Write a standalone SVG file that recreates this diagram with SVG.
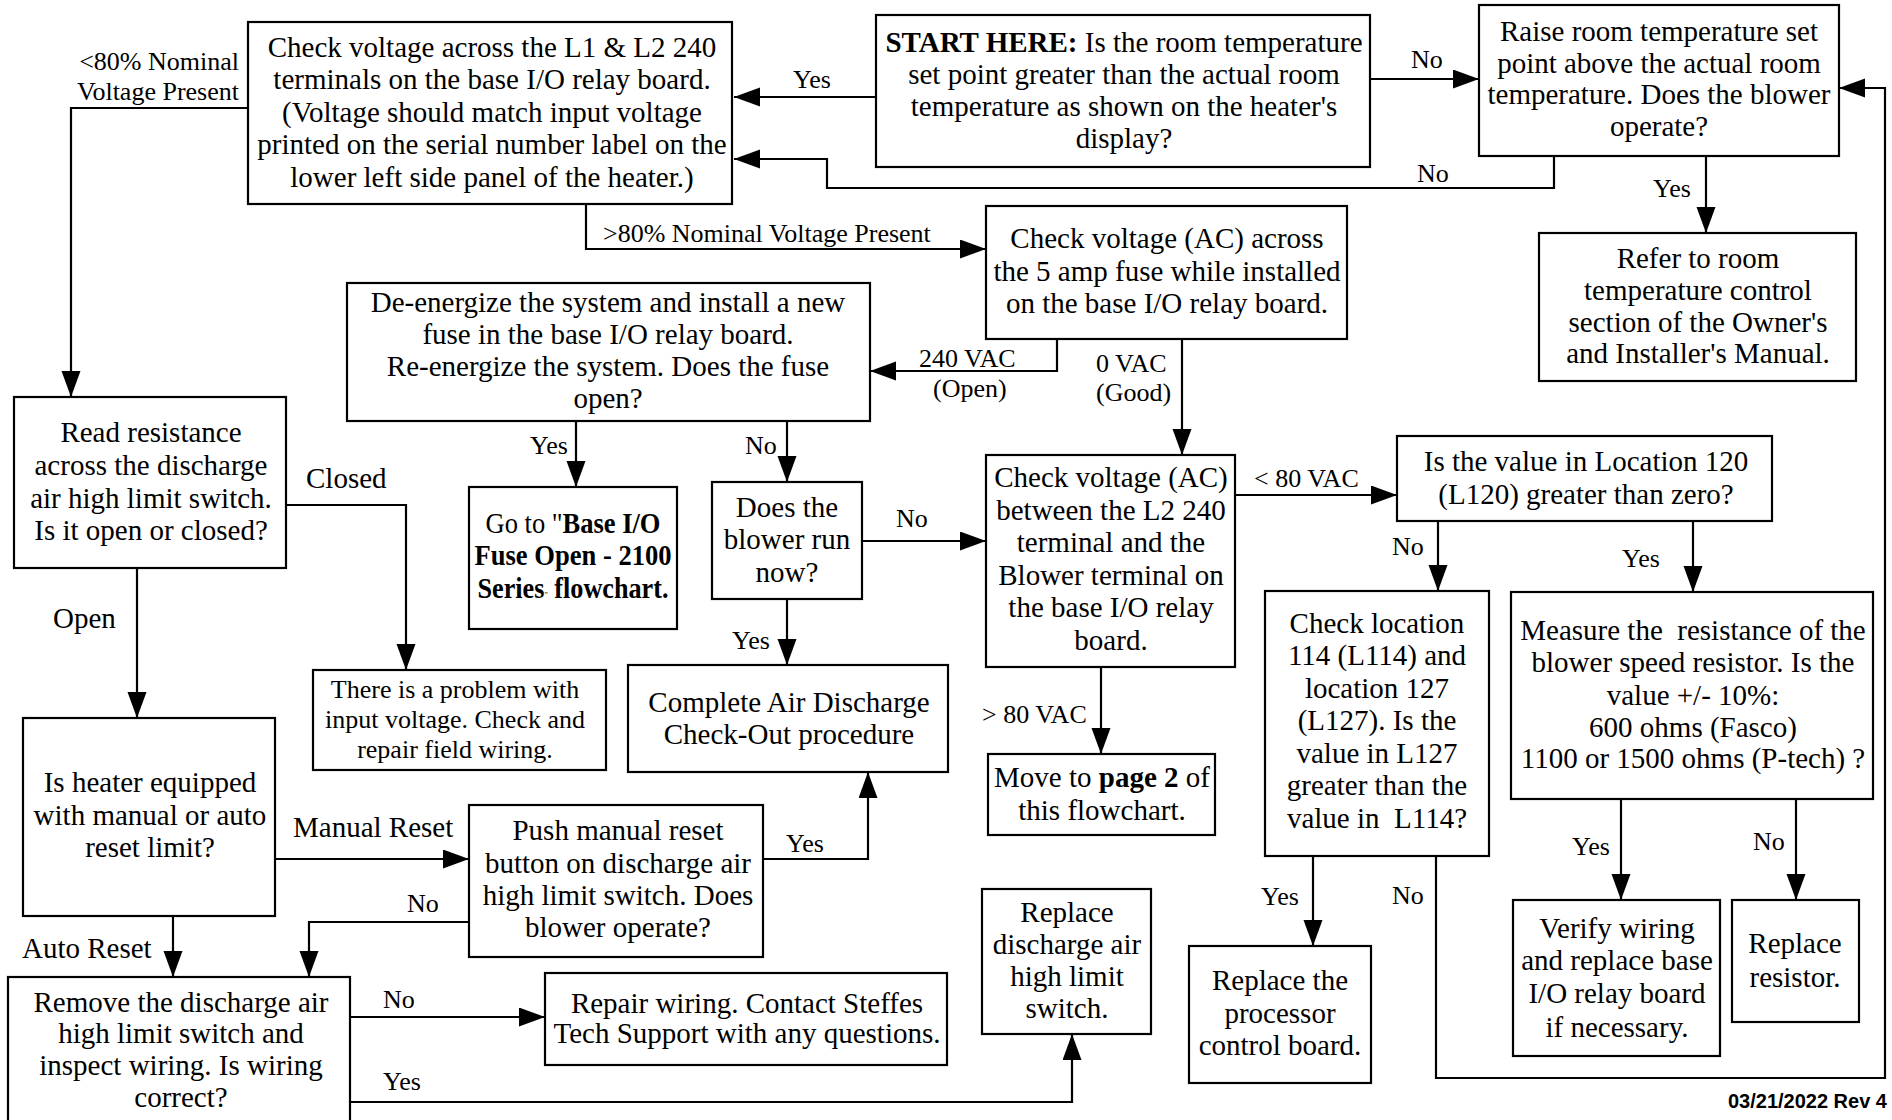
<svg xmlns="http://www.w3.org/2000/svg" width="1892" height="1120" viewBox="0 0 1892 1120">
<style>
text{font-family:"Liberation Serif","Times New Roman",serif;fill:#000}
.t{font-size:29px;text-anchor:middle}
.s{font-size:26px;text-anchor:middle}
.l{font-size:26px}
.lb{font-size:29px}
.b{font-weight:bold}
.box{fill:#fff;stroke:#000;stroke-width:2.2}
.c{fill:none;stroke:#000;stroke-width:2.2}
.rev{font-family:"Liberation Sans",Arial,sans-serif;font-weight:bold;font-size:20px;text-anchor:end}
</style>
<defs>
<marker id="ah" markerUnits="userSpaceOnUse" markerWidth="28" markerHeight="20" refX="26" refY="9.5" orient="auto">
<path d="M0,0 L26,9.5 L0,19 z" fill="#000"/>
</marker>
</defs>
<rect width="1892" height="1120" fill="#fff"/>

<g id="connectors" class="c" marker-end="url(#ah)">
<path d="M876,97 H734"/>
<path d="M1370,79 H1479"/>
<path d="M1554,156 V188 H827 V159 H734"/>
<path d="M1706,156 V233"/>
<path d="M586,204 V249 H986"/>
<path d="M248,108 H71 V397"/>
<path d="M1057,339 V371 H870"/>
<path d="M1182,339 V455"/>
<path d="M576,421 V487"/>
<path d="M787,421 V482"/>
<path d="M862,541 H986"/>
<path d="M787,599 V665"/>
<path d="M1235,495 H1397"/>
<path d="M1101,667 V754"/>
<path d="M1438,521 V591"/>
<path d="M1693,521 V592"/>
<path d="M1621,799 V900"/>
<path d="M1796,799 V900"/>
<path d="M1313,856 V946"/>
<path d="M1436,856 V1078 H1885 V88 H1839"/>
<path d="M286,505 H406 V670"/>
<path d="M137,568 V718"/>
<path d="M275,859 H469"/>
<path d="M173,916 V977"/>
<path d="M763,859 H868 V772"/>
<path d="M469,922 H309 V977"/>
<path d="M350,1017 H545"/>
<path d="M350,1102 H1072 V1034"/>
</g>

<g id="connector-labels">
<text class="l" x="239" y="70" text-anchor="end">&lt;80% Nominal</text>
<text class="l" x="239" y="100" text-anchor="end">Voltage Present</text>
<text class="l" x="793" y="88">Yes</text>
<text class="l" x="1411" y="68">No</text>
<text class="l" x="1417" y="182">No</text>
<text class="l" x="1653" y="197">Yes</text>
<text class="l" x="603" y="242">&gt;80% Nominal Voltage Present</text>
<text class="l" x="919" y="367">240 VAC</text>
<text class="l" x="933" y="397">(Open)</text>
<text class="l" x="1096" y="372">0 VAC</text>
<text class="l" x="1096" y="401">(Good)</text>
<text class="lb" x="306" y="488">Closed</text>
<text class="lb" x="53" y="628">Open</text>
<text class="l" x="530" y="454">Yes</text>
<text class="l" x="745" y="454">No</text>
<text class="l" x="896" y="527">No</text>
<text class="l" x="732" y="649">Yes</text>
<text class="l" x="1254" y="487">&lt; 80 VAC</text>
<text class="l" x="982" y="723">&gt; 80 VAC</text>
<text class="l" x="1392" y="555">No</text>
<text class="l" x="1622" y="567">Yes</text>
<text class="l" x="1572" y="855">Yes</text>
<text class="l" x="1753" y="850">No</text>
<text class="l" x="1261" y="905">Yes</text>
<text class="l" x="1392" y="904">No</text>
<text class="lb" x="293" y="837">Manual Reset</text>
<text class="l" x="407" y="912">No</text>
<text class="l" x="786" y="852">Yes</text>
<text class="lb" x="22" y="958">Auto Reset</text>
<text class="l" x="383" y="1008">No</text>
<text class="l" x="383" y="1090">Yes</text>
</g>

<g id="node-start">
<rect class="box" x="876" y="15" width="494" height="152"/>
<text class="t" x="1124" y="52"><tspan class="b">START HERE:</tspan> Is the room temperature</text>
<text class="t" x="1124" y="84">set point greater than the actual room</text>
<text class="t" x="1124" y="116">temperature as shown on the heater's</text>
<text class="t" x="1124" y="148">display?</text>
</g>

<g id="node-raise">
<rect class="box" x="1479" y="5" width="360" height="151"/>
<text class="t" x="1659" y="41">Raise room temperature set</text>
<text class="t" x="1659" y="73">point above the actual room</text>
<text class="t" x="1659" y="104">temperature. Does the blower</text>
<text class="t" x="1659" y="136">operate?</text>
</g>

<g id="node-refer">
<rect class="box" x="1539" y="233" width="317" height="148"/>
<text class="t" x="1698" y="268">Refer to room</text>
<text class="t" x="1698" y="300">temperature control</text>
<text class="t" x="1698" y="332">section of the Owner's</text>
<text class="t" x="1698" y="363">and Installer's Manual.</text>
</g>

<g id="node-check-l1l2">
<rect class="box" x="248" y="22" width="484" height="182"/>
<text class="t" x="492" y="57">Check voltage across the L1 &amp; L2 240</text>
<text class="t" x="492" y="89">terminals on the base I/O relay board.</text>
<text class="t" x="492" y="122">(Voltage should match input voltage</text>
<text class="t" x="492" y="154">printed on the serial number label on the</text>
<text class="t" x="492" y="187">lower left side panel of the heater.)</text>
</g>

<g id="node-check-fuse">
<rect class="box" x="986" y="206" width="361" height="133"/>
<text class="t" x="1167" y="248">Check voltage (AC) across</text>
<text class="t" x="1167" y="281">the 5 amp fuse while installed</text>
<text class="t" x="1167" y="313">on the base I/O relay board.</text>
</g>

<g id="node-deenergize">
<rect class="box" x="347" y="283" width="523" height="138"/>
<text class="t" x="608" y="312">De-energize the system and install a new</text>
<text class="t" x="608" y="344">fuse in the base I/O relay board.</text>
<text class="t" x="608" y="376">Re-energize the system. Does the fuse</text>
<text class="t" x="608" y="408">open?</text>
</g>

<g id="node-read-resistance">
<rect class="box" x="14" y="397" width="272" height="171"/>
<text class="t" x="151" y="442">Read resistance</text>
<text class="t" x="151" y="475">across the discharge</text>
<text class="t" x="151" y="508">air high limit switch.</text>
<text class="t" x="151" y="540">Is it open or closed?</text>
</g>

<g id="node-goto">
<rect class="box" x="469" y="487" width="208" height="142"/>
<text class="t" x="573" y="533" textLength="175" lengthAdjust="spacingAndGlyphs">Go to "<tspan class="b">Base I/O</tspan></text>
<text class="t b" x="573" y="565" textLength="197" lengthAdjust="spacingAndGlyphs">Fuse Open - 2100</text>
<text class="t b" x="573" y="598" textLength="191" lengthAdjust="spacingAndGlyphs">Series<tspan font-size="9" font-weight="normal">"</tspan> flowchart.</text>
</g>

<g id="node-does-blower">
<rect class="box" x="712" y="482" width="150" height="117"/>
<text class="t" x="787" y="517">Does the</text>
<text class="t" x="787" y="549">blower run</text>
<text class="t" x="787" y="582">now?</text>
</g>

<g id="node-check-l2-blower">
<rect class="box" x="986" y="455" width="249" height="212"/>
<text class="t" x="1111" y="487">Check voltage (AC)</text>
<text class="t" x="1111" y="520">between the L2 240</text>
<text class="t" x="1111" y="552">terminal and the</text>
<text class="t" x="1111" y="585">Blower terminal on</text>
<text class="t" x="1111" y="617">the base I/O relay</text>
<text class="t" x="1111" y="650">board.</text>
</g>

<g id="node-l120">
<rect class="box" x="1397" y="436" width="375" height="85"/>
<text class="t" x="1586" y="471">Is the value in Location 120</text>
<text class="t" x="1586" y="504">(L120) greater than zero?</text>
</g>

<g id="node-problem">
<rect class="box" x="313" y="670" width="293" height="100"/>
<text class="s" x="455" y="698">There is a problem with</text>
<text class="s" x="455" y="728">input voltage. Check and</text>
<text class="s" x="455" y="758">repair field wiring.</text>
</g>

<g id="node-complete">
<rect class="box" x="628" y="665" width="320" height="107"/>
<text class="t" x="789" y="712">Complete Air Discharge</text>
<text class="t" x="789" y="744">Check-Out procedure</text>
</g>

<g id="node-move">
<rect class="box" x="988" y="754" width="227" height="81"/>
<text class="t" x="1102" y="787">Move to <tspan class="b">page 2</tspan> of</text>
<text class="t" x="1102" y="820">this flowchart.</text>
</g>

<g id="node-l114">
<rect class="box" x="1265" y="591" width="224" height="265"/>
<text class="t" x="1377" y="633">Check location</text>
<text class="t" x="1377" y="665">114 (L114) and</text>
<text class="t" x="1377" y="698">location 127</text>
<text class="t" x="1377" y="730">(L127). Is the</text>
<text class="t" x="1377" y="763">value in L127</text>
<text class="t" x="1377" y="795">greater than the</text>
<text class="t" x="1377" y="828" xml:space="preserve">value in  L114?</text>
</g>

<g id="node-measure">
<rect class="box" x="1511" y="592" width="362" height="207"/>
<text class="t" x="1693" y="640" xml:space="preserve">Measure the  resistance of the</text>
<text class="t" x="1693" y="672">blower speed resistor. Is the</text>
<text class="t" x="1693" y="705">value +/- 10%:</text>
<text class="t" x="1693" y="737">600 ohms (Fasco)</text>
<text class="t" x="1693" y="768">1100 or 1500 ohms (P-tech) ?</text>
</g>

<g id="node-verify">
<rect class="box" x="1513" y="900" width="207" height="156"/>
<text class="t" x="1617" y="938">Verify wiring</text>
<text class="t" x="1617" y="970">and replace base</text>
<text class="t" x="1617" y="1003">I/O relay board</text>
<text class="t" x="1617" y="1037">if necessary.</text>
</g>

<g id="node-replace-resistor">
<rect class="box" x="1732" y="900" width="127" height="122"/>
<text class="t" x="1795" y="953">Replace</text>
<text class="t" x="1795" y="987">resistor.</text>
</g>

<g id="node-heater-reset">
<rect class="box" x="23" y="718" width="252" height="198"/>
<text class="t" x="150" y="792">Is heater equipped</text>
<text class="t" x="150" y="825">with manual or auto</text>
<text class="t" x="150" y="857">reset limit?</text>
</g>

<g id="node-push-reset">
<rect class="box" x="469" y="805" width="294" height="152"/>
<text class="t" x="618" y="840">Push manual reset</text>
<text class="t" x="618" y="873">button on discharge air</text>
<text class="t" x="618" y="905">high limit switch. Does</text>
<text class="t" x="618" y="937">blower operate?</text>
</g>

<g id="node-remove">
<rect class="box" x="8" y="977" width="342" height="150"/>
<text class="t" x="181" y="1012">Remove the discharge air</text>
<text class="t" x="181" y="1043">high limit switch and</text>
<text class="t" x="181" y="1075">inspect wiring. Is wiring</text>
<text class="t" x="181" y="1107">correct?</text>
</g>

<g id="node-repair">
<rect class="box" x="545" y="973" width="402" height="92"/>
<text class="t" x="747" y="1013">Repair wiring. Contact Steffes</text>
<text class="t" x="747" y="1043">Tech Support with any questions.</text>
</g>

<g id="node-replace-switch">
<rect class="box" x="982" y="889" width="169" height="145"/>
<text class="t" x="1067" y="922">Replace</text>
<text class="t" x="1067" y="954">discharge air</text>
<text class="t" x="1067" y="986">high limit</text>
<text class="t" x="1067" y="1018">switch.</text>
</g>

<g id="node-replace-processor">
<rect class="box" x="1189" y="946" width="182" height="137"/>
<text class="t" x="1280" y="990">Replace the</text>
<text class="t" x="1280" y="1023">processor</text>
<text class="t" x="1280" y="1055">control board.</text>
</g>

<text class="rev" x="1887" y="1108">03/21/2022 Rev 4</text>
</svg>
